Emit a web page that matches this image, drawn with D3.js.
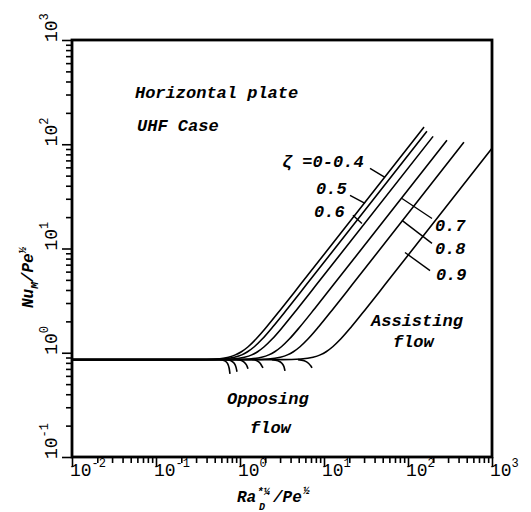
<!DOCTYPE html>
<html><head><meta charset="utf-8">
<script src="https://cdn.jsdelivr.net/npm/d3@7"></script>
<style>body{margin:0;background:#fff} svg{display:block}</style>
</head><body>
<script>
// ---------------- data ----------------
const xMajorTicks = [0.01, 0.1, 1, 10, 100, 1000];
const xTickExponents = ["-2", "-1", "0", "1", "2", "3"];
const yMajorTicks = [0.1, 1, 10, 100, 1000];
const yTickExponents = ["-1", "0", "1", "2", "3"];

// assisting-flow branches, zeta = 0-0.4, 0.5, 0.6, 0.7, 0.8, 0.9
const zetaNames = ["0-0.4", "0.5", "0.6", "0.7", "0.8", "0.9"];
const assistX_04 = [0.01, 0.31, 0.52, 0.73, 0.88, 1.04, 1.25, 1.56, 2.08, 3.12, 5.2, 155];
const assistY_04 = [0.86, 0.86, 0.872, 0.906, 0.954, 1.023, 1.142, 1.361, 1.775, 2.659, 4.48, 146];
const assistX_05 = [0.01, 0.37, 0.62, 0.86, 1.05, 1.23, 1.48, 1.85, 2.46, 3.69, 6.15, 168];
const assistY_05 = [0.86, 0.86, 0.872, 0.906, 0.954, 1.023, 1.142, 1.361, 1.775, 2.659, 4.48, 133];
const assistX_06 = [0.01, 0.49, 0.81, 1.13, 1.38, 1.62, 1.94, 2.43, 3.24, 4.86, 8.1, 199];
const assistY_06 = [0.86, 0.86, 0.872, 0.906, 0.954, 1.023, 1.142, 1.361, 1.775, 2.659, 4.48, 119];
const assistX_07 = [0.01, 0.78, 1.30, 1.81, 2.20, 2.59, 3.11, 3.89, 5.18, 7.77, 12.95, 291];
const assistY_07 = [0.86, 0.86, 0.872, 0.906, 0.954, 1.023, 1.142, 1.361, 1.775, 2.659, 4.48, 109];
const assistX_08 = [0.01, 1.30, 2.16, 3.02, 3.67, 4.32, 5.18, 6.48, 8.64, 12.96, 21.6, 464];
const assistY_08 = [0.86, 0.86, 0.872, 0.906, 0.954, 1.023, 1.142, 1.361, 1.775, 2.659, 4.48, 104.6];
const assistX_09 = [0.01, 3.2, 5.3, 7.42, 9.01, 10.6, 12.7, 15.9, 21.2, 31.8, 53, 1000];
const assistY_09 = [0.86, 0.86, 0.872, 0.906, 0.954, 1.023, 1.142, 1.361, 1.775, 2.659, 4.48, 91.6];

// opposing-flow branches (short hooks below the plateau)
const opposeX_04 = [0.578, 0.654, 0.710, 0.743, 0.760];
const opposeY_04 = [0.86, 0.838, 0.79, 0.71, 0.628];
const opposeX_05 = [0.681, 0.782, 0.853, 0.899, 0.921];
const opposeY_05 = [0.86, 0.838, 0.793, 0.72, 0.657];
const opposeX_06 = [0.921, 1.057, 1.153, 1.216, 1.245];
const opposeY_06 = [0.86, 0.838, 0.793, 0.74, 0.702];
const opposeX_07 = [1.389, 1.592, 1.738, 1.832, 1.877];
const opposeY_07 = [0.86, 0.838, 0.793, 0.74, 0.717];
const opposeX_08 = [2.40, 2.83, 3.15, 3.34, 3.43];
const opposeY_08 = [0.86, 0.838, 0.793, 0.735, 0.671];
const opposeX_09 = [4.90, 5.82, 6.53, 6.98, 7.20];
const opposeY_09 = [0.86, 0.838, 0.793, 0.745, 0.717];

// zeta labels: text anchor (data coords) and leader line (data coords)
const zetaLabelText = ["\u03b6 =0-0.4", "0.5", "0.6", "0.7", "0.8", "0.9"];
const zetaLabelX = [3.16, 8.03, 7.6, 209, 209, 215];
const zetaLabelY = [60.1, 33.0, 19.9, 14.6, 8.95, 5.03];
const leaderX1 = [35.3, 20.4, 22.1, 84.8, 84.8, 92.1];
const leaderY1 = [58.8, 32.3, 20.8, 30.2, 18.6, 9.16];
const leaderX2 = [53.2, 30.8, 28.3, 193, 193, 183];
const leaderY2 = [48.2, 27.1, 17.4, 19.4, 11.2, 6.14];

// free annotations
const noteText = ["Horizontal plate", "UHF Case", "Opposing", "flow", "Assisting", "flow"];
const noteX = [0.0562, 0.0594, 0.70, 1.315, 36.3, 66.2];
const noteY = [277, 133, 0.323, 0.170, 1.82, 1.14];

// ---------------- drawing ----------------
const W = 531, H = 512;
const mLeft = 72, mRight = 492, mTop = 40, mBottom = 457;
const x = d3.scaleLog().domain([0.01, 1000]).range([mLeft, mRight]);
const y = d3.scaleLog().domain([0.1, 1000]).range([mBottom, mTop]);

const svg = d3.select("body").append("svg").attr("width", W).attr("height", H)
  .style("font-family", "'Liberation Mono', 'Courier New', monospace");

function minorTicks(lo, hi) {
  const out = [];
  for (let e = lo; e < hi; e++) for (let m = 2; m <= 9; m++) out.push(m * Math.pow(10, e));
  return out;
}

// axes (ticks outward)
const gx = svg.append("g").attr("transform", `translate(0,${mBottom})`);
gx.append("g").call(d3.axisBottom(x).tickValues(minorTicks(-2, 3)).tickSize(6).tickFormat(""));
gx.append("g").call(d3.axisBottom(x).tickValues(xMajorTicks).tickSize(10).tickFormat(""));
const gy = svg.append("g").attr("transform", `translate(${mLeft},0)`);
gy.append("g").call(d3.axisLeft(y).tickValues(minorTicks(-1, 3)).tickSize(6).tickFormat(""));
gy.append("g").call(d3.axisLeft(y).tickValues(yMajorTicks).tickSize(10).tickFormat(""));
svg.selectAll(".domain").remove();
svg.selectAll(".tick line").attr("stroke", "#000").attr("stroke-width", 1.6);

// frame
svg.append("rect").attr("x", mLeft).attr("y", mTop).attr("width", mRight - mLeft).attr("height", mBottom - mTop)
  .attr("fill", "none").attr("stroke", "#000").attr("stroke-width", 2.8);

// tick labels
xMajorTicks.forEach((v, i) => {
  const t = svg.append("text").attr("x", x(v) - 2).attr("y", 476).attr("font-size", 18).attr("fill", "#000");
  t.append("tspan").text("10");
  t.append("tspan").attr("dy", -9).attr("font-size", 12).text(xTickExponents[i]);
});
yMajorTicks.forEach((v, i) => {
  const t = svg.append("text").attr("transform", `translate(57,${y(v) + 2}) rotate(-90)`)
    .attr("font-size", 18).attr("fill", "#000");
  t.append("tspan").text("10");
  t.append("tspan").attr("dy", -9).attr("font-size", 12).text(yTickExponents[i]);
});

// axis titles
const yt = svg.append("text").attr("transform", "translate(33,308) rotate(-90)")
  .attr("font-size", 16).attr("font-weight", "bold").attr("font-style", "italic");
yt.append("tspan").text("Nu");
yt.append("tspan").attr("font-size", 11).attr("dy", 5).text("M");
yt.append("tspan").attr("dy", -5).text("/Pe");
yt.append("tspan").attr("font-size", 11).attr("dy", -7).text("\u00bd");

const xt = svg.append("g").attr("font-weight", "bold").attr("font-style", "italic");
xt.append("text").attr("x", 237).attr("y", 502).attr("font-size", 16).text("Ra");
xt.append("text").attr("x", 257).attr("y", 495).attr("font-size", 11).text("*\u00bc");
xt.append("text").attr("x", 259).attr("y", 510).attr("font-size", 10).text("D");
xt.append("text").attr("x", 273).attr("y", 502).attr("font-size", 16).text("/Pe");
xt.append("text").attr("x", 303).attr("y", 494).attr("font-size", 11).text("\u00bd");

// curves
const line = d3.line().x(d => x(d[0])).y(d => y(d[1])).curve(d3.curveMonotoneX);
const zip = (a, b) => a.map((v, i) => [v, b[i]]);
const assisting = [
  zip(assistX_04, assistY_04), zip(assistX_05, assistY_05), zip(assistX_06, assistY_06),
  zip(assistX_07, assistY_07), zip(assistX_08, assistY_08), zip(assistX_09, assistY_09)];
const opposing = [
  zip(opposeX_04, opposeY_04), zip(opposeX_05, opposeY_05), zip(opposeX_06, opposeY_06),
  zip(opposeX_07, opposeY_07), zip(opposeX_08, opposeY_08), zip(opposeX_09, opposeY_09)];

const gc = svg.append("g").attr("fill", "none").attr("stroke", "#000").attr("stroke-width", 1.6);
assisting.forEach(c => gc.append("path").attr("d", line(c)));
opposing.forEach(c => gc.append("path").attr("d", line(c)));

// zeta labels + leaders
zetaLabelText.forEach((t, i) => {
  svg.append("text").attr("x", x(zetaLabelX[i])).attr("y", y(zetaLabelY[i]))
    .attr("font-size", 17).attr("font-weight", "bold").attr("font-style", "italic").text(t);
  svg.append("line").attr("x1", x(leaderX1[i])).attr("y1", y(leaderY1[i]))
    .attr("x2", x(leaderX2[i])).attr("y2", y(leaderY2[i]))
    .attr("stroke", "#000").attr("stroke-width", 1.4);
});

// annotations
noteText.forEach((t, i) => {
  svg.append("text").attr("x", x(noteX[i])).attr("y", y(noteY[i]))
    .attr("font-size", 17).attr("font-weight", "bold").attr("font-style", "italic").text(t);
});
</script>
</body></html>
